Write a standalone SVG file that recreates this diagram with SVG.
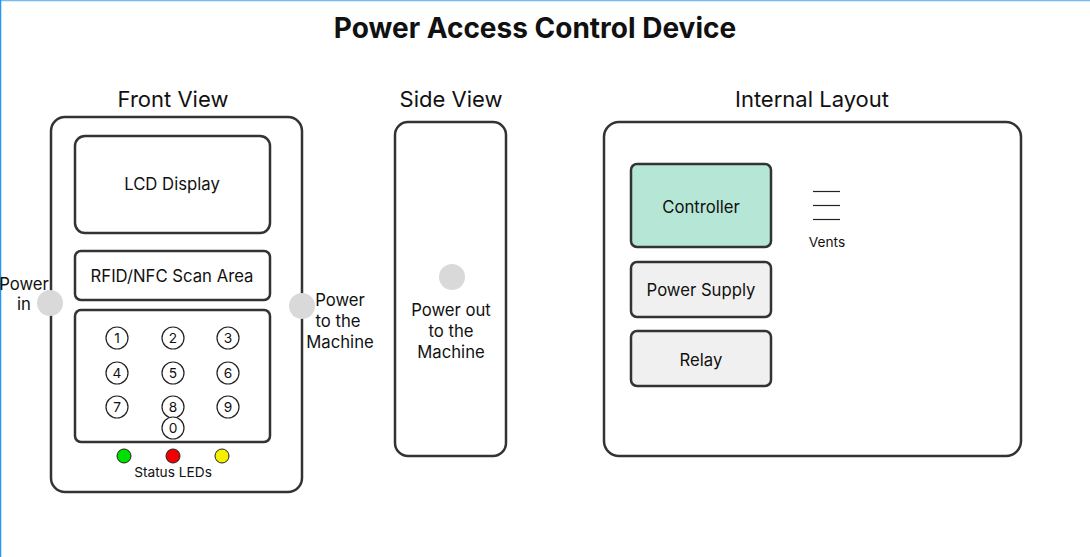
<svg xmlns="http://www.w3.org/2000/svg" width="1090" height="557" viewBox="0 0 1090 557">
<style>
text{font-family:Inter,"Liberation Sans",sans-serif;fill:#111;text-anchor:middle}
.box{fill:#fff;stroke:#333;stroke-width:2.5}
.t16{font-size:16.7px}
.t13{font-size:13.7px}
.hd{font-size:22px}
.key{fill:#fff;stroke:#222;stroke-width:1.2}
.port{fill:#d9d9d9}
.vent{stroke:#222;stroke-width:1.2}
</style>
<rect x="0" y="0" width="1090" height="557" fill="#fff"/>
<line x1="0" y1="0.5" x2="1090" y2="0.5" stroke="#74bcf5" stroke-width="1.5"/>
<line x1="0.5" y1="0" x2="0.5" y2="557" stroke="#2196f3" stroke-width="1.5"/>
<text x="535" y="38" style="font-size:28px;font-weight:bold">Power Access Control Device</text>

<g id="front-view">
<text class="hd" x="173" y="107">Front View</text>
<rect class="box" x="51" y="117" width="251" height="375" rx="14"/>
<g id="lcd"><rect class="box" x="75" y="136" width="195" height="97" rx="10"/><text class="t16" x="172" y="190">LCD Display</text></g>
<g id="rfid"><rect class="box" x="75" y="251" width="195" height="49" rx="6"/><text class="t16" x="172" y="282">RFID/NFC Scan Area</text></g>
<g id="keypad"><rect class="box" x="75" y="310" width="195" height="132" rx="6"/>
<g class="t13">
<circle class="key" cx="117" cy="338" r="11"/><text x="117" y="343">1</text>
<circle class="key" cx="173" cy="338" r="11"/><text x="173" y="343">2</text>
<circle class="key" cx="228" cy="338" r="11"/><text x="228" y="343">3</text>
<circle class="key" cx="117" cy="373" r="11"/><text x="117" y="378">4</text>
<circle class="key" cx="173" cy="373" r="11"/><text x="173" y="378">5</text>
<circle class="key" cx="228" cy="373" r="11"/><text x="228" y="378">6</text>
<circle class="key" cx="117" cy="407" r="11"/><text x="117" y="412">7</text>
<circle class="key" cx="173" cy="407" r="11"/><text x="173" y="412">8</text>
<circle class="key" cx="228" cy="407" r="11"/><text x="228" y="412">9</text>
<circle class="key" cx="173" cy="428" r="11"/><text x="173" y="433">0</text>
</g></g>
<g id="leds">
<circle cx="124" cy="456" r="7" fill="#00e000" stroke="#222" stroke-width="1"/>
<circle cx="173" cy="456" r="7" fill="#f00000" stroke="#222" stroke-width="1"/>
<circle cx="222" cy="456" r="7" fill="#f5f000" stroke="#222" stroke-width="1"/>
<text class="t13" x="173" y="477">Status LEDs</text>
</g>
<g id="power-in"><circle class="port" cx="50" cy="303" r="13"/><text class="t16" x="24" y="290">Power</text><text class="t16" x="24" y="310">in</text></g>
<g id="power-out"><circle class="port" cx="302" cy="306" r="13"/><text class="t16" x="340" y="306">Power</text><text class="t16" x="338" y="327">to the</text><text class="t16" x="340" y="348">Machine</text></g>
</g>

<g id="side-view">
<text class="hd" x="451" y="107">Side View</text>
<rect class="box" x="395" y="122" width="111" height="334" rx="13"/>
<circle class="port" cx="452" cy="277" r="13"/>
<text class="t16" x="451" y="316">Power out</text>
<text class="t16" x="451" y="337">to the</text>
<text class="t16" x="451" y="358">Machine</text>
</g>

<g id="internal-layout">
<text class="hd" x="812" y="107">Internal Layout</text>
<rect class="box" x="604" y="122" width="417" height="334" rx="15"/>
<g id="controller"><rect x="631" y="164" width="140" height="83" rx="6" fill="#b5e6d6" stroke="#333" stroke-width="2.5"/><text class="t16" x="701" y="213">Controller</text></g>
<g id="power-supply"><rect x="631" y="262" width="140" height="55" rx="6" fill="#f0f0f0" stroke="#333" stroke-width="2.5"/><text class="t16" x="701" y="296">Power Supply</text></g>
<g id="relay"><rect x="631" y="331" width="140" height="55" rx="6" fill="#f0f0f0" stroke="#333" stroke-width="2.5"/><text class="t16" x="701" y="366">Relay</text></g>
<g id="vents">
<line class="vent" x1="813" y1="191.5" x2="840" y2="191.5"/>
<line class="vent" x1="813" y1="205.5" x2="840" y2="205.5"/>
<line class="vent" x1="813" y1="219.5" x2="840" y2="219.5"/>
<text class="t13" x="827" y="247">Vents</text>
</g>
</g>
<g id="connectors"/>
</svg>
